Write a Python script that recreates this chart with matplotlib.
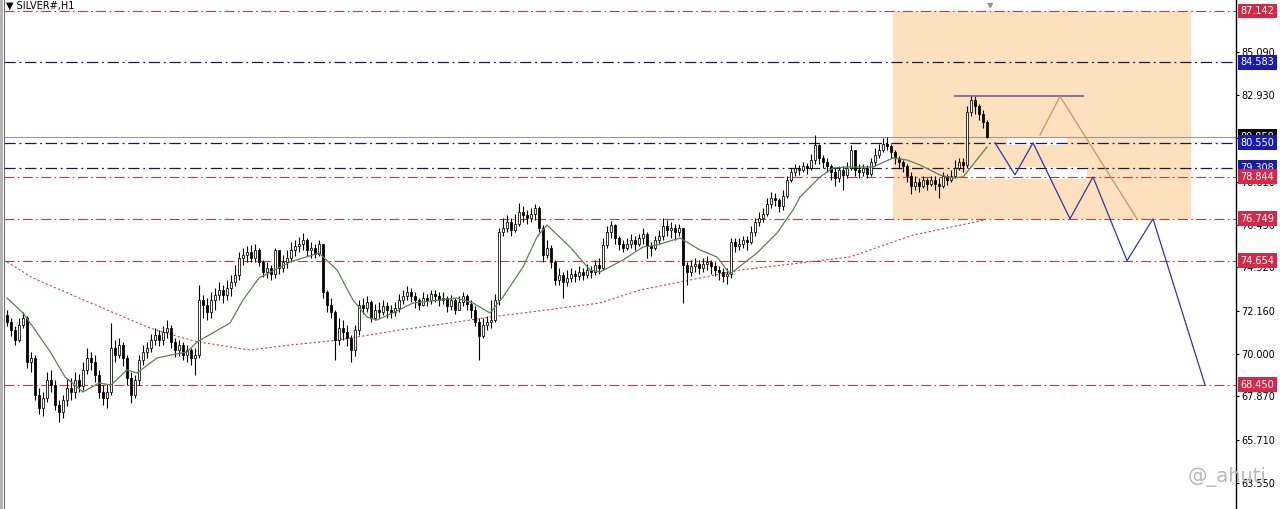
import matplotlib
matplotlib.use("Agg")
import matplotlib.pyplot as plt
import matplotlib.transforms as mtransforms
from matplotlib.patches import Rectangle
import numpy as np

# ---- SILVER#, H1 candles (price) ----
first_open = 71.94
close = [
    71.59, 71.19, 70.69, 71.44, 71.79, 69.59, 69.79, 67.94, 67.29, 67.79,
    68.69, 68.44, 67.44, 67.09, 67.69, 68.29, 68.09, 68.69, 68.39, 69.19,
    69.79, 69.59, 68.94, 68.09, 67.79, 68.09, 70.29, 69.94, 70.44, 69.79,
    68.79, 67.94, 68.69, 69.69, 70.09, 70.29, 70.69, 70.94, 70.69, 71.09,
    71.29, 70.59, 70.19, 70.44, 69.94, 70.19, 69.79, 69.94, 72.69, 72.44,
    72.09, 72.69, 72.94, 73.19, 72.94, 73.29, 73.59, 73.94, 74.79, 74.94,
    75.09, 74.79, 75.19, 74.59, 74.09, 74.29, 73.99, 75.19, 74.29, 74.59,
    74.79, 75.19, 75.39, 75.49, 75.69, 75.19, 75.29, 74.99, 75.49, 73.09,
    72.44, 72.09, 70.69, 71.29, 71.09, 70.79, 70.19, 71.19, 72.44, 72.29,
    72.59, 71.79, 72.19, 72.09, 72.39, 72.19, 72.09, 72.29, 72.69, 72.89,
    73.09, 72.89, 72.69, 72.44, 72.79, 72.69, 72.99, 72.89, 72.69, 72.79,
    72.39, 72.69, 72.19, 72.59, 72.89, 72.49, 72.19, 71.59, 70.89, 71.44,
    71.59, 71.69, 72.69, 76.09, 76.29, 76.59, 76.19, 76.49, 77.09, 76.94,
    76.79, 76.99, 77.29, 76.29, 74.94, 75.29, 74.59, 73.69, 73.94, 73.59,
    73.79, 73.99, 73.89, 74.09, 73.94, 74.19, 74.09, 74.44, 74.29, 75.44,
    76.09, 76.44, 75.79, 75.49, 75.29, 75.49, 75.69, 75.49, 75.79, 75.99,
    75.39, 75.29, 75.69, 75.89, 76.39, 76.19, 76.29, 76.09, 76.29, 74.44,
    74.09, 74.39, 74.49, 74.29, 74.49, 74.59, 74.39, 74.19, 74.09, 73.89,
    73.99, 75.59, 75.39, 75.49, 75.69, 75.59, 76.09, 76.59, 76.79, 76.99,
    77.49, 77.79, 77.69, 77.39, 77.89, 78.69, 79.09, 79.29, 79.19, 79.39,
    79.29, 79.69, 80.44, 79.79, 79.59, 79.39, 79.09, 78.79, 79.19, 78.94,
    79.29, 80.19, 79.19, 79.09, 79.29, 78.99, 79.59, 79.94, 80.19, 80.49,
    80.39, 80.09, 79.79, 79.59, 79.39, 78.89, 78.39, 78.59, 78.39, 78.69,
    78.49, 78.69, 78.49, 78.39, 78.89, 78.69, 78.89, 79.29, 79.59, 79.44,
    82.09, 82.69, 82.39, 81.99, 81.59, 80.86,
]
high = [
    72.19, 71.79, 71.39, 71.79, 72.09, 71.89, 70.09, 69.94, 68.29, 68.09,
    69.09, 69.19, 68.69, 67.69, 67.94, 68.79, 68.79, 69.09, 68.99, 69.59,
    70.29, 70.09, 69.94, 69.19, 68.44, 68.49, 71.54, 70.69, 70.79, 70.59,
    69.94, 69.09, 68.94, 69.94, 70.44, 70.59, 70.99, 71.29, 71.19, 71.39,
    71.69, 71.44, 70.79, 70.69, 70.59, 70.44, 70.29, 70.29, 73.44, 72.94,
    72.79, 73.09, 73.29, 73.59, 73.44, 73.69, 73.94, 74.44, 75.09, 75.29,
    75.39, 75.44, 75.49, 75.29, 74.69, 74.59, 74.44, 75.29, 75.19, 74.94,
    75.19, 75.59, 75.69, 75.84, 76.04, 75.79, 75.59, 75.49, 75.69, 75.49,
    73.19, 72.79, 72.19, 71.79, 71.69, 71.44, 70.94, 71.44, 72.69, 72.79,
    72.89, 72.69, 72.49, 72.59, 72.69, 72.59, 72.44, 72.59, 72.99, 73.19,
    73.39, 73.29, 73.09, 72.79, 73.09, 72.99, 73.19, 73.19, 73.09, 73.09,
    72.89, 72.94, 72.79, 72.89, 73.09, 72.99, 72.69, 72.39, 71.79, 71.79,
    71.89, 72.69, 72.99, 76.29, 76.79, 76.94, 76.79, 76.99, 77.54, 77.39,
    77.19, 77.29, 77.49, 77.39, 76.44, 75.69, 75.44, 74.69, 74.29, 74.09,
    74.19, 74.29, 74.19, 74.39, 74.29, 74.49, 74.39, 74.69, 74.79, 75.79,
    76.39, 76.64, 76.49, 75.89, 75.69, 75.79, 75.99, 75.89, 75.99, 76.29,
    76.09, 75.59, 75.89, 76.19, 76.79, 76.69, 76.59, 76.49, 76.49, 76.29,
    74.59, 74.69, 74.79, 74.69, 74.79, 74.89, 74.69, 74.59, 74.39, 74.29,
    74.29, 75.79, 75.79, 75.79, 75.89, 75.89, 76.39, 76.79, 77.09, 77.29,
    77.79, 78.09, 78.04, 77.79, 78.19, 78.89, 79.29, 79.49, 79.44, 79.59,
    79.54, 79.99, 80.94, 80.49, 79.94, 79.79, 79.49, 79.29, 79.39, 79.39,
    79.59, 80.44, 80.19, 79.49, 79.49, 79.44, 79.79, 80.29, 80.49, 80.79,
    80.84, 80.49, 80.19, 79.89, 79.69, 79.49, 79.09, 78.89, 78.79, 78.89,
    78.79, 78.89, 78.89, 78.79, 79.09, 78.99, 79.19, 79.69, 79.79, 79.79,
    82.39, 82.94, 82.89, 82.49, 82.19, 81.69,
]
low = [
    71.39, 70.89, 70.44, 70.59, 71.29, 69.29, 69.09, 67.69, 66.99, 66.89,
    67.59, 68.09, 67.19, 66.59, 66.79, 67.39, 67.69, 67.79, 68.09, 68.19,
    68.99, 69.19, 68.59, 67.79, 67.44, 67.29, 67.94, 69.59, 69.79, 69.39,
    68.44, 67.54, 67.79, 68.44, 69.44, 69.79, 70.09, 70.44, 70.39, 70.44,
    70.79, 70.29, 69.84, 69.89, 69.69, 69.59, 69.44, 68.94, 69.79, 71.79,
    71.69, 71.79, 72.19, 72.69, 72.54, 72.69, 72.89, 73.39, 73.69, 74.44,
    74.59, 74.59, 74.59, 74.39, 73.84, 73.79, 73.69, 73.79, 73.99, 74.09,
    74.29, 74.59, 74.89, 75.09, 75.19, 74.89, 74.79, 74.79, 74.89, 72.79,
    72.09, 71.79, 69.69, 70.44, 70.69, 70.39, 69.59, 69.89, 70.94, 71.99,
    72.09, 71.59, 71.69, 71.79, 71.94, 71.79, 71.79, 71.89, 72.09, 72.49,
    72.69, 72.59, 72.29, 72.19, 72.39, 72.39, 72.49, 72.59, 72.39, 72.49,
    72.09, 72.19, 71.99, 72.19, 72.39, 72.19, 71.79, 71.39, 69.69, 70.79,
    71.19, 71.29, 71.59, 72.44, 75.89, 76.09, 75.89, 76.09, 76.39, 76.59,
    76.49, 76.59, 76.69, 76.09, 74.59, 74.79, 74.29, 73.44, 73.44, 72.79,
    73.39, 73.59, 73.59, 73.69, 73.69, 73.79, 73.79, 73.94, 73.99, 74.19,
    75.29, 75.79, 75.49, 75.19, 75.09, 75.19, 75.29, 75.19, 75.39, 75.49,
    74.79, 74.89, 75.19, 75.49, 75.69, 75.89, 75.79, 75.69, 75.89, 72.54,
    73.44, 73.89, 74.09, 73.99, 74.09, 74.19, 73.99, 73.89, 73.69, 73.59,
    73.49, 73.79, 75.09, 75.19, 75.29, 75.19, 75.49, 75.89, 76.39, 76.59,
    76.89, 77.29, 77.39, 77.09, 77.19, 77.79, 78.59, 78.89, 78.94, 79.09,
    78.99, 79.19, 79.49, 79.49, 79.29, 79.09, 78.69, 78.39, 78.59, 78.19,
    78.79, 79.19, 78.89, 78.79, 78.89, 78.79, 78.89, 79.39, 79.79, 80.09,
    80.19, 79.79, 79.49, 79.29, 79.09, 78.59, 77.99, 78.19, 78.09, 78.29,
    78.19, 78.39, 78.19, 77.79, 78.29, 78.44, 78.59, 78.79, 79.19, 79.09,
    79.29, 81.89, 81.99, 81.69, 81.29, 80.79,
]

# moving averages (bar index, price)
ma_fast_idx = [0, 4, 6.5, 11, 14.5, 19, 23, 26, 30, 32.5, 37.5, 41, 45, 47.5,
               55.75, 59, 63, 70.75, 78, 82.5, 86.5, 90, 92.5, 98, 101.5, 112.5,
               116.5, 120.75, 124, 129, 132.5, 135, 140.75, 145.75, 148.25, 154,
               159, 162.5, 168.25, 173.25, 177.5, 180.75, 187.5, 192.5, 196.5,
               198.25, 203.25, 206.5, 210, 216.5, 221.5, 225, 228.25, 233.25,
               236.5, 239, 245]
ma_fast_val = [72.79, 72.04, 71.34, 70.04, 68.84, 68.09, 68.54, 68.44, 69.19, 69.04,
               69.79, 69.94, 70.09, 70.59, 71.54, 72.69, 73.79, 74.59, 75.04, 74.19,
               72.69, 71.84, 71.69, 72.19, 72.54, 72.79, 72.54, 72.04, 72.84, 74.34,
               75.84, 76.44, 75.34, 74.19, 74.09, 74.69, 75.34, 75.44, 75.79, 75.19,
               74.84, 73.99, 75.04, 76.04, 77.19, 77.84, 78.84, 79.29, 79.34, 79.34,
               79.79, 79.69, 79.44, 78.94, 78.79, 78.84, 80.34]
ma_slow_idx = [0, 6.5, 23.25, 35.75, 44, 48, 60.75, 70.75, 80.75, 87.5, 98.25,
               112.5, 120.75, 129, 148.25, 158.25, 170.75, 183.25, 198.25, 210.75,
               226.5, 244.5]
ma_slow_val = [74.59, 73.79, 72.34, 71.29, 70.79, 70.59, 70.19, 70.44, 70.64, 70.84,
               71.19, 71.59, 71.84, 72.04, 72.54, 73.19, 73.69, 74.19, 74.54, 74.84,
               75.94, 76.69]

# horizontal levels
red_levels = [87.142, 78.844, 76.749, 74.654, 68.450]
blue_levels = [84.583, 80.550, 79.308]
bid = 80.858
axis_ticks = [85.090, 82.930, 80.770, 78.610, 76.450, 74.320, 72.160,
              70.000, 67.870, 65.710, 63.550]

# projected paths
proj_blue_idx = [247, 252, 256.5, 265.75, 271.5, 280, 286.5, 299.5]
proj_blue_val = [80.55, 78.95, 80.55, 76.749, 78.844, 74.654, 76.749, 68.45]
proj_tan_idx = [258.25, 263.25, 282.5]
proj_tan_val = [80.94, 82.87, 76.749]
top_line_idx = [237, 269]
top_line_val = [82.89, 82.89]
zone_idx = (221.5, 296)
zone_val = (76.749, 87.142)
gap_a = (250, 265, 80.44, 80.79)
gap_b = (240, 270, 78.74, 79.34)

W, H = 1280, 509
fig = plt.figure(figsize=(W / 100, H / 100), dpi=100)
fig.patch.set_facecolor("white")
ax = fig.add_axes([4 / W, 0, (1236 - 4) / W, 1])
ax.set_facecolor("white")

ax.set_xlim(-0.75, 307.25)
ax.set_ylim(62.24, 87.69)

# sell zone
ax.add_patch(Rectangle((zone_idx[0], zone_val[0]), zone_idx[1] - zone_idx[0],
                       zone_val[1] - zone_val[0], facecolor="#fde1be",
                       edgecolor="none", zorder=0))
for g in (gap_a, gap_b):
    ax.add_patch(Rectangle((g[0], g[2]), g[1] - g[0], g[3] - g[2],
                           facecolor="white", edgecolor="none", zorder=0.5))

dashdot = (0, (9, 3, 1.5, 3))
for lv in red_levels:
    ax.axhline(lv, color="#b8404c", lw=0.8, ls=dashdot, zorder=1)
for lv in blue_levels:
    ax.axhline(lv, color="#1a1a48", lw=0.9, ls=dashdot, zorder=1)
ax.axhline(bid, color="#9a9a9a", lw=0.8, zorder=1)

# candles
c = np.array(close)
o = np.concatenate([[first_open], c[:-1]])
h = np.array(high)
l = np.array(low)
idx = np.arange(len(c))
ax.vlines(idx, l, h, color="black", lw=0.8, zorder=3)
face = np.where(c >= o, "white", "black")
ax.bar(idx, np.maximum(np.abs(c - o), 0.02), bottom=np.minimum(o, c), width=0.72,
       color=face, edgecolor="black", linewidth=0.55, zorder=4)

# moving averages
ax.plot(ma_fast_idx, ma_fast_val, color="#5f7f5a", lw=0.9, zorder=5)
ax.plot(ma_slow_idx, ma_slow_val, color="#d04545", lw=0.8, ls=(0, (2, 2)), zorder=2)

# drawings
ax.plot(top_line_idx, top_line_val, color="#7a6a9e", lw=1.3, zorder=5)
ax.plot(proj_tan_idx, proj_tan_val, color="#c8946c", lw=0.9, zorder=5)
ax.plot(proj_blue_idx, proj_blue_val, color="#3434a4", lw=0.9, zorder=6)

# axes styling
for s in ("top", "bottom"):
    ax.spines[s].set_visible(False)
ax.spines["right"].set_color("black")
ax.spines["right"].set_linewidth(1.0)
ax.spines["left"].set_color("#707070")
ax.set_xticks([])
ax.yaxis.tick_right()
ax.set_yticks(axis_ticks)
ax.set_yticklabels([f"{v:.3f}" for v in axis_ticks])
ax.tick_params(axis="y", direction="out", length=2.5, width=0.8, pad=1.5,
               labelsize=7, colors="black")

# price labels on the scale
trans = mtransforms.offset_copy(ax.get_yaxis_transform(), fig=fig, x=4.5, y=0, units="dots")
labels = [(87.142, "#d42a4a"), (84.583, "#1b1bb0"), (80.858, "black"),
          (80.550, "#1b1bb0"), (79.308, "#1b1bb0"), (78.844, "#d42a4a"),
          (76.749, "#d42a4a"), (74.654, "#d42a4a"), (68.450, "#d42a4a")]
for k, (lv, col) in enumerate(labels):
    ax.text(1.0, lv, f"{lv:.3f}", transform=trans, ha="left", va="center",
            fontsize=7, color="white", clip_on=False, zorder=10 + k,
            bbox=dict(boxstyle="square,pad=0.25", facecolor=col, edgecolor="none"))

# window frame & captions
fig.patches.append(Rectangle((0, 0), 3 / W, 1, transform=fig.transFigure,
                             facecolor="#b4b4b4", edgecolor="none"))
fig.text(6 / W, 1 - 1 / H, "\u25bc SILVER#,H1", fontsize=7, va="top", ha="left",
         color="black")
fig.text(990 / W, 1 - 1 / H, "\u25bc", fontsize=6, va="top", ha="center", color="#909090")
fig.text(1188 / W, 1 - 477 / H, "@_ahuti", fontsize=14, va="center", ha="left",
         color="#b8b8b8")

fig.savefig("out.png", dpi=100)
